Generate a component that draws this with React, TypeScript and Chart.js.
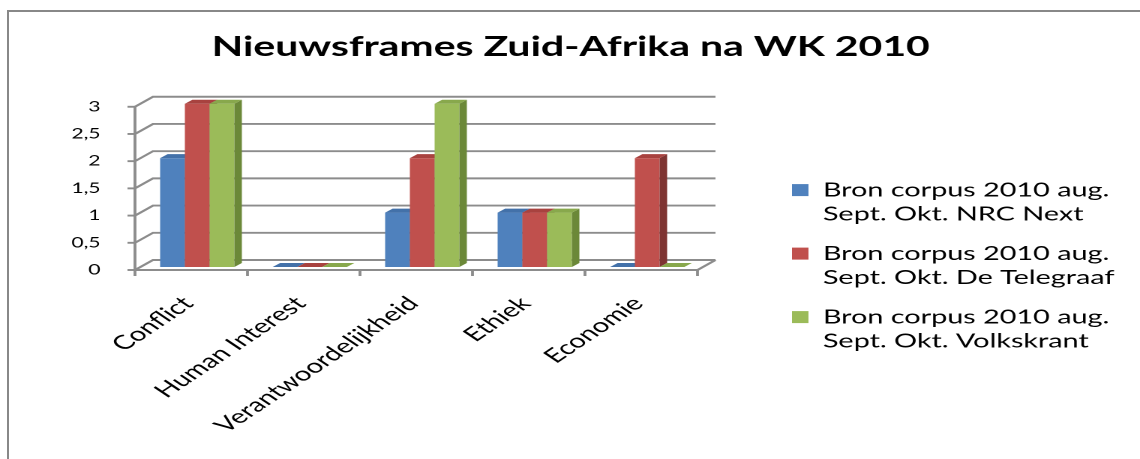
import React, { useEffect, useRef } from 'react';
import { Chart, registerables } from 'chart.js';

Chart.register(...registerables);

// ---------- data ----------
const titleText = 'Nieuwsframes Zuid-Afrika na WK 2010';
const categories = ['Conflict', 'Human Interest', 'Verantwoordelijkheid', 'Ethiek', 'Economie'];
const nrcNext = [2, 0, 1, 1, 0];
const telegraaf = [3, 0, 2, 1, 2];
const volkskrant = [3, 0, 3, 1, 0];
const seriesLabels = [
  ['Bron corpus 2010 aug.', 'Sept. Okt. NRC Next'],
  ['Bron corpus 2010 aug.', 'Sept. Okt. De Telegraaf'],
  ['Bron corpus 2010 aug.', 'Sept. Okt. Volkskrant'],
];
const yTicks = [0, 0.5, 1, 1.5, 2, 2.5, 3];
const yTickLabels = ['0', '0,5', '1', '1,5', '2', '2,5', '3'];

// ---------- styles ----------
const frontColors = ['#4F81BD', '#C0504D', '#9BBB59'];
const sideColors = ['#385D8A', '#7E3432', '#6B8838'];
const topColors = ['#4371A9', '#A8423F', '#88A84C'];
const GRID_COLOR = '#8c8c8c';
const FONT = 'Lato';

const STRETCH = 1.5;
const W = 760;
const H = 459;
const PAD_LEFT = 8;
const PAD_RIGHT = 7;
const PLOT_LEFT = 90;
const PLOT_RIGHT = 465;
const PLOT_BOTTOM = 270;
const LEGEND_TOP_GAP = 155;
const WALL_DX = 12;
const WALL_DY = 10;
const BAR_DX = 5;
const BAR_DY = 4;
const FRONT_SHIFT_X = 4;
const FRONT_SHIFT_Y = 3;
const TICK = 5;

function poly(ctx: CanvasRenderingContext2D, pts: number[][], color: string) {
  ctx.beginPath();
  ctx.moveTo(pts[0][0], pts[0][1]);
  for (let i = 1; i < pts.length; i++) ctx.lineTo(pts[i][0], pts[i][1]);
  ctx.closePath();
  ctx.fillStyle = color;
  ctx.fill();
}

const threeD = {
  id: 'threeD',
  beforeDatasetDraw() {
    return false;
  },
  beforeDatasetsDraw(chart: any) {
    const { ctx, chartArea, scales } = chart;
    const ys = scales.y;
    const xs = scales.x;
    const L = chartArea.left;
    const R = chartArea.right;
    ctx.save();
    ctx.strokeStyle = GRID_COLOR;
    ctx.lineWidth = 1.9;
    ctx.lineCap = 'butt';
    yTicks.forEach((v) => {
      const py = ys.getPixelForValue(v);
      ctx.beginPath();
      ctx.moveTo(L, py);
      ctx.lineTo(L + WALL_DX, py - WALL_DY);
      ctx.lineTo(R + WALL_DX, py - WALL_DY);
      ctx.stroke();
      ctx.beginPath();
      ctx.moveTo(L - TICK, py);
      ctx.lineTo(L, py);
      ctx.stroke();
    });
    const y0 = ys.getPixelForValue(yTicks[0]);
    const yTop = ys.getPixelForValue(yTicks[yTicks.length - 1]);
    ctx.beginPath();
    ctx.moveTo(L, yTop);
    ctx.lineTo(L, y0);
    ctx.lineTo(R, y0);
    ctx.lineTo(R + WALL_DX, y0 - WALL_DY);
    ctx.stroke();
    for (let i = 0; i <= categories.length; i++) {
      const bx = xs.getPixelForValue(i - 0.5);
      ctx.beginPath();
      ctx.moveTo(bx, y0);
      ctx.lineTo(bx, y0 + TICK + 1);
      ctx.stroke();
    }
    ctx.restore();
  },
  afterDatasetsDraw(chart: any) {
    const { ctx } = chart;
    ctx.save();
    chart.data.datasets.forEach((_ds: any, di: number) => {
      const meta = chart.getDatasetMeta(di);
      meta.data.forEach((el: any) => {
        const { x, y, base, width } = el.getProps(['x', 'y', 'base', 'width'], true);
        const left = x - width / 2 + FRONT_SHIFT_X;
        const right = x + width / 2 + FRONT_SHIFT_X;
        const top = y - FRONT_SHIFT_Y;
        const bottom = base - FRONT_SHIFT_Y;
        if (bottom - top > 0.5) {
          ctx.fillStyle = frontColors[di];
          ctx.fillRect(left, top, right - left, bottom - top);
          poly(ctx, [[right, top], [right + BAR_DX, top - BAR_DY], [right + BAR_DX, bottom - BAR_DY], [right, bottom]], sideColors[di]);
        }
        poly(ctx, [[left, top], [right, top], [right + BAR_DX, top - BAR_DY], [left + BAR_DX, top - BAR_DY]], topColors[di]);
      });
    });
    ctx.restore();
  },
};

export default function App() {
  const ref = useRef<HTMLCanvasElement>(null);

  useEffect(() => {
    if (!ref.current) return;
    const chart = new Chart(ref.current, {
      type: 'bar',
      data: {
        labels: categories,
        datasets: [
          { label: seriesLabels[0] as any, data: nrcNext, backgroundColor: frontColors[0], borderWidth: 0 },
          { label: seriesLabels[1] as any, data: telegraaf, backgroundColor: frontColors[1], borderWidth: 0 },
          { label: seriesLabels[2] as any, data: volkskrant, backgroundColor: frontColors[2], borderWidth: 0 },
        ],
      },
      options: {
        animation: false,
        responsive: false,
        devicePixelRatio: 2,
        layout: { padding: { left: PAD_LEFT, top: 0, bottom: 0, right: PAD_RIGHT } },
        datasets: { bar: { categoryPercentage: 0.66, barPercentage: 1 } },
        plugins: {
          title: {
            display: true,
            text: titleText,
            color: '#000',
            font: { family: FONT, size: 27.3, weight: 'bold', lineHeight: 1.2 },
            padding: { top: 31, bottom: 43 },
          },
          legend: {
            display: true,
            position: 'right',
            align: 'start',
            maxWidth: 400,
            title: {
              display: true,
              text: ' ',
              font: { family: FONT, size: 10, lineHeight: 1 },
              padding: { top: LEGEND_TOP_GAP, bottom: 0 },
            },
            labels: {
              boxWidth: 11,
              boxHeight: 12,
              padding: 15.5,
              color: '#000',
              font: { family: FONT, size: 19.2, lineHeight: '24px' as any },
            },
          },
          tooltip: { enabled: false },
        },
        scales: {
          x: {
            type: 'category',
            grid: { display: false, drawTicks: false },
            border: { display: false },
            ticks: {
              minRotation: 45,
              maxRotation: 45,
              autoSkip: false,
              padding: 22,
              labelOffset: -2,
              color: '#000',
              font: { family: FONT, size: 19.5 },
            },
            afterFit: (s: any) => {
              s.height = H - PLOT_BOTTOM;
            },
          },
          y: {
            type: 'linear',
            min: 0,
            max: 3,
            grid: { display: false, drawTicks: false },
            border: { display: false },
            ticks: {
              stepSize: 0.5,
              padding: 23,
              color: '#000',
              font: { family: FONT, size: 14 },
              callback: (v: any) => yTickLabels[yTicks.indexOf(Number(v))],
            },
            afterFit: (s: any) => {
              s.width = PLOT_LEFT - PAD_LEFT;
            },
          },
          pad: {
            type: 'linear',
            position: 'right',
            display: true,
            grid: { display: false, drawTicks: false },
            border: { display: false },
            ticks: { display: false },
            afterFit: (s: any) => {
              const lg = s.chart.legend;
              s.width = Math.max(0, W - PAD_RIGHT - (lg ? lg.width : 0) - PLOT_RIGHT);
            },
          },
        },
      } as any,
      plugins: [threeD],
    });
    return () => chart.destroy();
  }, []);

  return (
    <div style={{ position: 'fixed', left: 0, top: 0, width: W * STRETCH, height: H, overflow: 'hidden', background: '#fff' }}>
      <div
        style={{
          position: 'absolute',
          left: 7,
          top: 10,
          width: W * STRETCH - 7,
          height: H - 10,
          borderLeft: '2px solid #888',
          borderTop: '2px solid #888',
          boxSizing: 'border-box',
        }}
      />
      <canvas
        ref={ref}
        width={W}
        height={H}
        style={{ position: 'absolute', left: 0, top: 0, width: W, height: H, transform: `scaleX(${STRETCH})`, transformOrigin: '0 0' }}
      />
    </div>
  );
}
